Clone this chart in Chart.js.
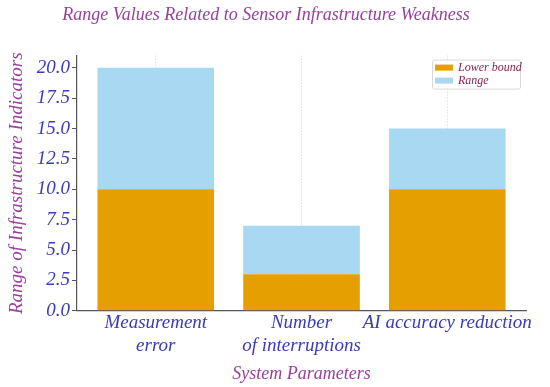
<!DOCTYPE html>
<html>
<head>
<meta charset="utf-8">
<script src="https://cdn.jsdelivr.net/npm/chart.js@4.4.0/dist/chart.umd.min.js"></script>
<style>
  body { margin: 0; background: #fff; }
  #wrap { width: 550px; height: 387px; }
</style>
</head>
<body>
<div id="wrap"><canvas id="sensor-chart"></canvas></div>
<script>
const categories = [["Measurement", "error"], ["Number", "of interruptions"], "AI accuracy reduction"];
const lowerBound = [10, 3, 10];
const rangeVals = [10, 4, 5];
const yTicks = [0, 2.5, 5, 7.5, 10, 12.5, 15, 17.5, 20];

const serif = "'Liberation Serif', 'DejaVu Serif', serif";

// legend box drawn inside the plot, top right
const boxLegend = {
  id: 'boxLegend',
  afterDraw(chart) {
    const ctx = chart.ctx;
    const area = chart.chartArea;
    const x = area.right - 94, y = area.top + 4, w = 88, h = 29;
    ctx.save();
    ctx.fillStyle = 'rgba(255,255,255,0.85)';
    ctx.strokeStyle = '#d8d8d8';
    ctx.lineWidth = 1;
    ctx.beginPath();
    ctx.roundRect(x + 0.5, y + 0.5, w, h, 2);
    ctx.fill();
    ctx.stroke();
    ctx.font = 'italic 12px ' + serif;
    ctx.textBaseline = 'middle';
    chart.data.datasets.forEach((ds, i) => {
      const ly = y + 8 + i * 13;
      ctx.fillStyle = ds.backgroundColor;
      ctx.fillRect(x + 3, ly - 3, 18, 6);
      ctx.fillStyle = '#8a2050';
      ctx.fillText(ds.label, x + 26, ly);
    });
    ctx.restore();
  }
};

const toPoints = arr => arr.map((v, i) => ({ x: i, y: v }));

new Chart(document.getElementById('sensor-chart').getContext('2d'), {
  type: 'bar',
  data: {
    datasets: [
      { label: 'Lower bound', data: toPoints(lowerBound), backgroundColor: '#E69F00' },
      { label: 'Range', data: toPoints(rangeVals), backgroundColor: '#A8D8F2' }
    ]
  },
  options: {
    responsive: true,
    maintainAspectRatio: false,
    animation: false,
    layout: { padding: { left: 6, right: 24, top: 0, bottom: 2 } },
    datasets: { bar: { barPercentage: 0.8, categoryPercentage: 1.0 } },
    plugins: {
      legend: { display: false },
      tooltip: { enabled: false },
      title: {
        display: true,
        text: 'Range Values Related to Sensor Infrastructure Weakness',
        color: '#9a3f9e',
        font: { family: serif, size: 18, style: 'italic', weight: 'normal' },
        padding: { top: 4, bottom: 30 }
      }
    },
    scales: {
      x: {
        type: 'linear',
        stacked: true,
        min: -0.54,
        max: 2.54,
        offset: false,
        z: 1,
        afterBuildTicks: scale => { scale.ticks = categories.map((c, i) => ({ value: i })); },
        grid: {
          offset: false,
          color: 'rgba(150,150,150,0.5)',
          lineWidth: 0.8,
          drawTicks: false
        },
        border: { display: true, color: '#555', width: 1.2, dash: [1, 2] },
        ticks: {
          color: '#3a3ac0',
          font: { family: serif, size: 19, style: 'italic', lineHeight: 1.2 },
          maxRotation: 0,
          autoSkip: false,
          padding: 1,
          callback: v => categories[v]
        },
        title: {
          display: true,
          text: 'System Parameters',
          color: '#9a3f9e',
          font: { family: serif, size: 18, style: 'italic' },
          padding: { top: 5, bottom: 0 }
        }
      },
      y: {
        stacked: true,
        min: 0,
        max: 21,
        afterBuildTicks: scale => { scale.ticks = yTicks.map(v => ({ value: v })); },
        grid: { display: true, drawOnChartArea: false, tickLength: 5, color: '#555' },
        border: { display: true, color: '#555', width: 1.2 },
        ticks: {
          color: '#3a3ac0',
          font: { family: serif, size: 19, style: 'italic' },
          padding: 2,
          callback: v => Number(v).toFixed(1)
        },
        title: {
          display: true,
          text: 'Range of Infrastructure Indicators',
          color: '#9a3f9e',
          font: { family: serif, size: 19, style: 'italic' },
          padding: { top: 0, bottom: 6 }
        }
      }
    }
  },
  plugins: [boxLegend]
});
</script>
</body>
</html>
